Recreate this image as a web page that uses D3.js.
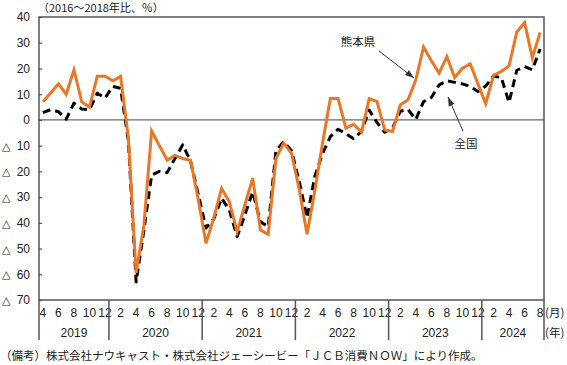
<!DOCTYPE html>
<html>
<head>
<meta charset="utf-8">
<script src="https://cdn.jsdelivr.net/npm/d3@7"></script>
<style>
  body { margin: 0; background: #fff; }
  svg { display: block; }
  .num { font-family: "Liberation Sans Narrow", "Liberation Sans", Arial, sans-serif; font-size: 12px; fill: #222; }
  .jp { font-family: "Noto Sans CJK JP", sans-serif; font-size: 11.5px; fill: #222; }
</style>
</head>
<body>
<svg id="chart" width="567" height="365"></svg>
<script>
// months Apr 2019 .. Aug 2024
const years = [2019, 2020, 2021, 2022, 2023, 2024];
const firstMonth = 4, lastMonth = 8;

// 熊本県 (2016-2018 ratio, %)
const kumamoto = [
  7.1, 10.5, 14, 10, 19.5, 7, 5, 17, 17,            // 2019 Apr-Dec
  15.2, 16.9, -7, -59.5, -41, -4.3, -10, -15.6, -13.8, -15, -15.7, -31, // 2020
  -48, -38, -26.6, -31.8, -43.5, -33, -22.7, -42.8, -44.5, -15, -9, -13, // 2021
  -27, -44.4, -27.5, -9, 8.3, 8.3, -3.2, -1.7, -4.8, 8.2, 7.2, -3.9,     // 2022
  -4.5, 5.8, 7.8, 15.6, 28.3, 23, 18.2, 24.6, 16.5, 20.1, 21.8, 14,      // 2023
  6.3, 17.3, 18.8, 21, 34.2, 37.8, 24.1, 34                             // 2024 Jan-Aug
];

// 全国
const national = [
  2.8, 4, 3.2, 0.3, 6.5, 4.2, 4, 10.4, 8.5,
  13, 12.3, -8, -63, -43, -21.4, -20, -20.5, -15, -9.7, -16, -29,
  -42, -38.5, -30.4, -35, -45.4, -37, -28, -39.6, -41.5, -12, -8.4, -12,
  -24, -38, -22, -13, -6.5, -3.6, -5.4, -7.3, -4.5, 3.8, -1, -4.8,
  -3.2, 3.4, 4, 0.2, 7.1, 8.7, 13.6, 15.2, 14.6, 14, 13, 11,
  13.2, 17, 16.5, 6.8, 19.3, 20.7, 19.5, 27.6
];

const yTicks = [40, 30, 20, 10, 0, -10, -20, -30, -40, -50, -60, -70];
const monthTicks = [2, 4, 6, 8, 10, 12];

const months = [];
years.forEach(function (yr) {
  const m0 = yr === years[0] ? firstMonth : 1;
  const m1 = yr === years[years.length - 1] ? lastMonth : 12;
  for (let m = m0; m <= m1; m++) months.push({ year: yr, month: m, key: yr + "-" + m });
});

const svg = d3.select("#chart");
const plotL = 39, plotR = 544, plotT = 17, plotB = 300;

const x = d3.scaleBand().domain(months.map(d => d.key)).range([plotL, plotR]).padding(0);
const y = d3.scaleLinear().domain([-70, 40]).range([plotB, plotT]);
const cx = k => x(k) + x.bandwidth() / 2;

// frame
svg.append("rect")
  .attr("x", plotL).attr("y", plotT)
  .attr("width", plotR - plotL).attr("height", plotB - plotT)
  .attr("fill", "none").attr("stroke", "#555").attr("stroke-width", 1.5);

// zero line
svg.append("line")
  .attr("x1", plotL).attr("x2", plotR)
  .attr("y1", y(0)).attr("y2", y(0))
  .attr("stroke", "#444").attr("stroke-width", 1);

// y axis
const yAxis = svg.append("g")
  .attr("transform", "translate(" + plotL + ",0)")
  .call(d3.axisLeft(y).tickValues(yTicks).tickSize(-3).tickPadding(9)
    .tickFormat(d => Math.abs(d)));
yAxis.select(".domain").remove();
yAxis.selectAll("line").attr("stroke", "#555").attr("stroke-width", 1.2);
yAxis.attr("font-size", null).attr("font-family", null);
yAxis.selectAll("text").attr("class", "num");
yAxis.selectAll(".tick").filter(d => d < 0).append("text")
  .attr("x", -37).attr("dy", "0.32em")
  .attr("text-anchor", "start")
  .attr("fill", "#222")
  .style("font-family", "'DejaVu Sans', sans-serif").style("font-size", "11px")
  .text("△");

// x axis: month labels
const labelled = months.filter(d => monthTicks.includes(d.month) || d.key === months[0].key);
svg.append("g").selectAll("text")
  .data(labelled).enter().append("text")
  .attr("class", "num")
  .attr("x", d => cx(d.key)).attr("y", 317)
  .attr("text-anchor", "middle")
  .text(d => d.month);

// year separators
const yearStarts = years.map(yr => months.find(d => d.year === yr).key);
svg.append("g").selectAll("line")
  .data(yearStarts).enter().append("line")
  .attr("x1", d => x(d)).attr("x2", d => x(d))
  .attr("y1", plotB).attr("y2", 340)
  .attr("stroke", "#555").attr("stroke-width", 1.5);
svg.append("line")
  .attr("x1", plotR).attr("x2", plotR)
  .attr("y1", plotB).attr("y2", 340)
  .attr("stroke", "#555").attr("stroke-width", 1.5);

// year labels
svg.append("g").selectAll("text")
  .data(years).enter().append("text")
  .attr("class", "num")
  .attr("x", function (yr) {
    const ms = months.filter(d => d.year === yr);
    return (x(ms[0].key) + x(ms[ms.length - 1].key) + x.bandwidth()) / 2;
  })
  .attr("y", 337)
  .attr("text-anchor", "middle")
  .text(d => d);

svg.append("text").attr("class", "jp").attr("x", 545).attr("y", 317).text("(月)");
svg.append("text").attr("class", "jp").attr("x", 545).attr("y", 337).text("(年)");

// lines
const line = d3.line().x((d, i) => cx(months[i].key)).y(d => y(d));

svg.append("path").datum(national)
  .attr("fill", "none").attr("stroke", "#000")
  .attr("stroke-width", 3).attr("stroke-dasharray", "8,5")
  .attr("stroke-linejoin", "round")
  .attr("d", line);

svg.append("path").datum(kumamoto)
  .attr("fill", "none").attr("stroke", "#E97726")
  .attr("stroke-width", 3)
  .attr("stroke-linejoin", "miter")
  .attr("d", line);

// annotations
svg.append("defs").append("marker")
  .attr("id", "arrow").attr("viewBox", "0 0 10 10")
  .attr("refX", 10).attr("refY", 5)
  .attr("markerWidth", 9).attr("markerHeight", 9)
  .attr("orient", "auto-start-reverse")
  .append("path").attr("d", "M0,1.5 L10,5 L0,8.5 z").attr("fill", "#333");

svg.append("line")
  .attr("x1", 379).attr("y1", 51).attr("x2", 414).attr("y2", 78)
  .attr("stroke", "#333").attr("stroke-width", 1)
  .attr("marker-end", "url(#arrow)");
svg.append("text").attr("class", "jp").attr("x", 358).attr("y", 46)
  .attr("text-anchor", "middle").text("熊本県");

svg.append("line")
  .attr("x1", 463).attr("y1", 131).attr("x2", 448).attr("y2", 97)
  .attr("stroke", "#333").attr("stroke-width", 1)
  .attr("marker-end", "url(#arrow)");
svg.append("text").attr("class", "jp").attr("x", 466).attr("y", 148)
  .attr("text-anchor", "middle").text("全国");

// titles
svg.append("text").attr("class", "jp").attr("x", 38).attr("y", 12)
  .style("font-size", "11px")
  .text("（2016～2018年比、％）");
svg.append("text").attr("class", "jp").attr("x", 0).attr("y", 360)
  .text("（備考）株式会社ナウキャスト・株式会社ジェーシービー「ＪＣＢ消費ＮＯＷ」により作成。");
</script>
</body>
</html>
